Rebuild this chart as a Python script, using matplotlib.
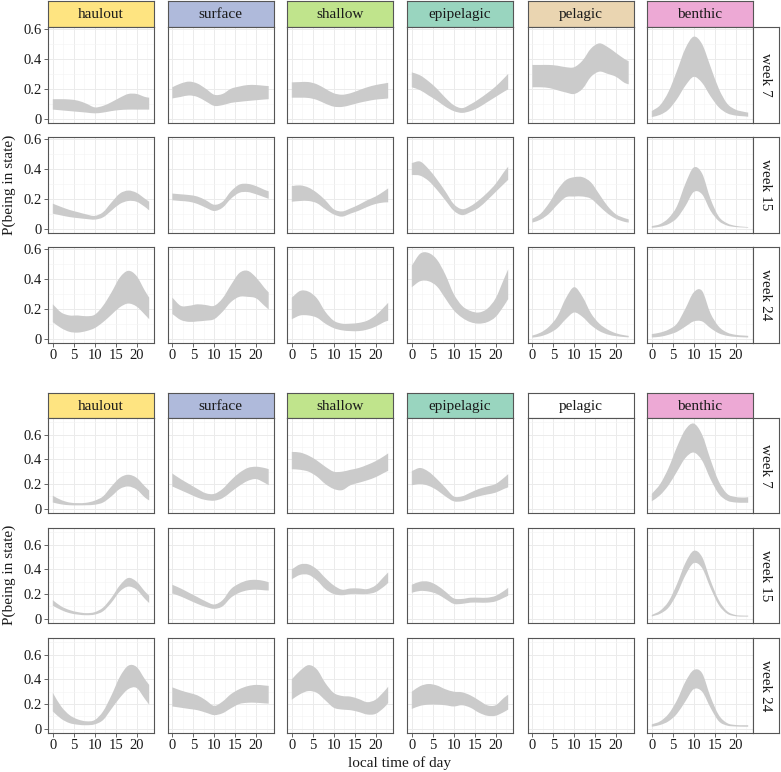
import matplotlib
matplotlib.use("Agg")
import matplotlib.pyplot as plt
from matplotlib.path import Path
from matplotlib.patches import PathPatch

# ---------------- data ----------------
hours = [0, 2, 4, 6, 8, 10, 12, 14, 16, 18, 20, 22, 23]
states = ["haulout", "surface", "shallow", "epipelagic", "pelagic", "benthic"]
weeks = ["week 7", "week 15", "week 24"]
strip_colors_top = ["#FEE481", "#AFBADB", "#C0E48C", "#99D5BF", "#EAD5B1", "#EDA9D5"]
strip_colors_bottom = ["#FEE481", "#AFBADB", "#C0E48C", "#99D5BF", "#FFFFFF", "#EDA9D5"]

# ---- upper chart (first model) ----
top_w7_lower = {
    "haulout":    [0.06, 0.055, 0.05, 0.045, 0.04, 0.035, 0.04, 0.05, 0.057, 0.06, 0.06, 0.06, 0.06],
    "surface":    [0.135, 0.145, 0.155, 0.145, 0.115, 0.085, 0.09, 0.105, 0.112, 0.118, 0.123, 0.128, 0.13],
    "shallow":    [0.14, 0.14, 0.138, 0.125, 0.10, 0.08, 0.078, 0.09, 0.105, 0.117, 0.127, 0.132, 0.135],
    "epipelagic": [0.21, 0.19, 0.155, 0.12, 0.08, 0.05, 0.038, 0.05, 0.075, 0.11, 0.145, 0.18, 0.196],
    "pelagic":    [0.21, 0.21, 0.205, 0.19, 0.175, 0.165, 0.20, 0.28, 0.315, 0.30, 0.28, 0.24, 0.23],
    "benthic":    [0.01, 0.025, 0.06, 0.13, 0.22, 0.28, 0.24, 0.15, 0.075, 0.035, 0.02, 0.015, 0.012],
}
top_w7_upper = {
    "haulout":    [0.13, 0.13, 0.128, 0.12, 0.10, 0.075, 0.085, 0.11, 0.14, 0.165, 0.165, 0.145, 0.14],
    "surface":    [0.21, 0.235, 0.248, 0.235, 0.20, 0.16, 0.165, 0.20, 0.215, 0.225, 0.225, 0.22, 0.218],
    "shallow":    [0.243, 0.245, 0.245, 0.23, 0.20, 0.17, 0.16, 0.17, 0.19, 0.21, 0.225, 0.235, 0.24],
    "epipelagic": [0.31, 0.29, 0.25, 0.20, 0.14, 0.09, 0.07, 0.095, 0.13, 0.17, 0.215, 0.27, 0.30],
    "pelagic":    [0.36, 0.36, 0.36, 0.355, 0.345, 0.345, 0.39, 0.47, 0.505, 0.48, 0.44, 0.40, 0.385],
    "benthic":    [0.05, 0.09, 0.18, 0.32, 0.47, 0.55, 0.50, 0.35, 0.20, 0.10, 0.06, 0.045, 0.04],
}
top_w15_lower = {
    "haulout":    [0.10, 0.088, 0.077, 0.07, 0.064, 0.06, 0.075, 0.12, 0.165, 0.185, 0.18, 0.145, 0.122],
    "surface":    [0.19, 0.185, 0.18, 0.165, 0.14, 0.118, 0.14, 0.20, 0.24, 0.245, 0.23, 0.21, 0.20],
    "shallow":    [0.18, 0.185, 0.185, 0.17, 0.13, 0.095, 0.08, 0.10, 0.12, 0.145, 0.165, 0.175, 0.176],
    "epipelagic": [0.36, 0.355, 0.32, 0.26, 0.19, 0.12, 0.09, 0.11, 0.14, 0.19, 0.245, 0.30, 0.327],
    "pelagic":    [0.04, 0.06, 0.10, 0.16, 0.21, 0.215, 0.215, 0.20, 0.15, 0.10, 0.065, 0.045, 0.04],
    "benthic":    [0.005, 0.012, 0.03, 0.07, 0.15, 0.245, 0.23, 0.12, 0.05, 0.02, 0.01, 0.007, 0.006],
}
top_w15_upper = {
    "haulout":    [0.167, 0.145, 0.125, 0.11, 0.095, 0.085, 0.11, 0.175, 0.235, 0.255, 0.24, 0.20, 0.18],
    "surface":    [0.235, 0.23, 0.225, 0.215, 0.19, 0.16, 0.18, 0.25, 0.295, 0.30, 0.285, 0.26, 0.25],
    "shallow":    [0.285, 0.29, 0.275, 0.24, 0.19, 0.13, 0.115, 0.135, 0.16, 0.19, 0.215, 0.25, 0.27],
    "epipelagic": [0.44, 0.45, 0.40, 0.33, 0.25, 0.165, 0.13, 0.15, 0.19, 0.24, 0.30, 0.38, 0.415],
    "pelagic":    [0.065, 0.10, 0.17, 0.26, 0.325, 0.345, 0.345, 0.31, 0.23, 0.15, 0.095, 0.07, 0.062],
    "benthic":    [0.016, 0.03, 0.07, 0.15, 0.30, 0.41, 0.37, 0.20, 0.08, 0.035, 0.018, 0.012, 0.01],
}
top_w24_lower = {
    "haulout":    [0.11, 0.07, 0.045, 0.04, 0.05, 0.07, 0.11, 0.16, 0.21, 0.235, 0.215, 0.16, 0.13],
    "surface":    [0.165, 0.125, 0.112, 0.115, 0.12, 0.13, 0.18, 0.245, 0.28, 0.28, 0.27, 0.22, 0.195],
    "shallow":    [0.13, 0.155, 0.155, 0.14, 0.10, 0.07, 0.055, 0.05, 0.05, 0.06, 0.08, 0.11, 0.12],
    "epipelagic": [0.345, 0.385, 0.385, 0.35, 0.27, 0.19, 0.14, 0.11, 0.10, 0.11, 0.145, 0.22, 0.265],
    "pelagic":    [0.006, 0.015, 0.035, 0.07, 0.13, 0.175, 0.145, 0.09, 0.05, 0.027, 0.016, 0.01, 0.008],
    "benthic":    [0.007, 0.012, 0.025, 0.045, 0.08, 0.115, 0.115, 0.07, 0.035, 0.018, 0.011, 0.008, 0.007],
}
top_w24_upper = {
    "haulout":    [0.23, 0.175, 0.155, 0.155, 0.15, 0.16, 0.22, 0.31, 0.41, 0.455, 0.42, 0.32, 0.275],
    "surface":    [0.275, 0.22, 0.22, 0.23, 0.225, 0.22, 0.27, 0.36, 0.44, 0.455, 0.41, 0.34, 0.31],
    "shallow":    [0.275, 0.32, 0.315, 0.27, 0.18, 0.12, 0.10, 0.10, 0.105, 0.12, 0.155, 0.21, 0.24],
    "epipelagic": [0.49, 0.57, 0.575, 0.53, 0.43, 0.30, 0.22, 0.185, 0.175, 0.20, 0.27, 0.40, 0.465],
    "pelagic":    [0.02, 0.04, 0.08, 0.15, 0.27, 0.345, 0.28, 0.17, 0.10, 0.06, 0.035, 0.022, 0.018],
    "benthic":    [0.03, 0.04, 0.06, 0.10, 0.20, 0.31, 0.32, 0.17, 0.08, 0.04, 0.025, 0.02, 0.018],
}

# ---- lower chart (second model; no pelagic state) ----
bot_w7_lower = {
    "haulout":    [0.05, 0.035, 0.028, 0.027, 0.028, 0.032, 0.05, 0.10, 0.16, 0.18, 0.155, 0.09, 0.067],
    "surface":    [0.18, 0.15, 0.12, 0.09, 0.07, 0.065, 0.085, 0.135, 0.185, 0.225, 0.24, 0.21, 0.19],
    "shallow":    [0.32, 0.315, 0.30, 0.26, 0.20, 0.16, 0.15, 0.19, 0.21, 0.23, 0.255, 0.29, 0.307],
    "epipelagic": [0.19, 0.20, 0.185, 0.15, 0.10, 0.06, 0.06, 0.08, 0.10, 0.115, 0.13, 0.16, 0.173],
    "pelagic":    None,
    "benthic":    [0.06, 0.11, 0.19, 0.30, 0.41, 0.455, 0.39, 0.24, 0.12, 0.065, 0.05, 0.048, 0.048],
}
bot_w7_upper = {
    "haulout":    [0.105, 0.07, 0.05, 0.045, 0.048, 0.065, 0.10, 0.18, 0.25, 0.275, 0.25, 0.18, 0.147],
    "surface":    [0.285, 0.24, 0.20, 0.16, 0.125, 0.12, 0.16, 0.23, 0.29, 0.33, 0.34, 0.33, 0.32],
    "shallow":    [0.46, 0.455, 0.43, 0.39, 0.34, 0.30, 0.30, 0.315, 0.33, 0.355, 0.385, 0.425, 0.448],
    "epipelagic": [0.305, 0.33, 0.30, 0.24, 0.17, 0.10, 0.10, 0.13, 0.16, 0.18, 0.20, 0.25, 0.28],
    "pelagic":    None,
    "benthic":    [0.12, 0.20, 0.33, 0.50, 0.64, 0.69, 0.60, 0.40, 0.22, 0.12, 0.095, 0.09, 0.093],
}
bot_w15_lower = {
    "haulout":    [0.105, 0.07, 0.045, 0.033, 0.028, 0.033, 0.06, 0.13, 0.22, 0.26, 0.235, 0.16, 0.127],
    "surface":    [0.205, 0.18, 0.15, 0.12, 0.095, 0.08, 0.10, 0.17, 0.21, 0.23, 0.235, 0.23, 0.228],
    "shallow":    [0.32, 0.355, 0.355, 0.31, 0.24, 0.20, 0.19, 0.20, 0.20, 0.20, 0.215, 0.26, 0.29],
    "epipelagic": [0.21, 0.225, 0.22, 0.20, 0.16, 0.12, 0.12, 0.13, 0.13, 0.13, 0.14, 0.17, 0.186],
    "pelagic":    None,
    "benthic":    [0.018, 0.04, 0.09, 0.20, 0.35, 0.45, 0.41, 0.25, 0.11, 0.04, 0.02, 0.017, 0.017],
}
bot_w15_upper = {
    "haulout":    [0.15, 0.10, 0.07, 0.053, 0.045, 0.053, 0.09, 0.17, 0.27, 0.33, 0.30, 0.22, 0.186],
    "surface":    [0.275, 0.245, 0.21, 0.175, 0.14, 0.115, 0.15, 0.24, 0.285, 0.31, 0.315, 0.305, 0.295],
    "shallow":    [0.40, 0.44, 0.44, 0.40, 0.33, 0.27, 0.235, 0.245, 0.245, 0.24, 0.27, 0.34, 0.375],
    "epipelagic": [0.275, 0.30, 0.30, 0.27, 0.22, 0.165, 0.16, 0.17, 0.17, 0.17, 0.185, 0.225, 0.25],
    "pelagic":    None,
    "benthic":    [0.03, 0.065, 0.14, 0.28, 0.45, 0.55, 0.50, 0.31, 0.15, 0.06, 0.03, 0.025, 0.025],
}
bot_w24_lower = {
    "haulout":    [0.14, 0.08, 0.045, 0.032, 0.028, 0.035, 0.07, 0.16, 0.25, 0.32, 0.33, 0.24, 0.195],
    "surface":    [0.18, 0.17, 0.16, 0.15, 0.13, 0.11, 0.125, 0.165, 0.20, 0.21, 0.21, 0.205, 0.203],
    "shallow":    [0.235, 0.28, 0.305, 0.29, 0.23, 0.17, 0.155, 0.15, 0.135, 0.115, 0.12, 0.17, 0.208],
    "epipelagic": [0.16, 0.185, 0.195, 0.195, 0.19, 0.18, 0.19, 0.17, 0.13, 0.105, 0.105, 0.135, 0.155],
    "pelagic":    None,
    "benthic":    [0.016, 0.03, 0.06, 0.12, 0.22, 0.32, 0.30, 0.17, 0.06, 0.025, 0.018, 0.016, 0.016],
}
bot_w24_upper = {
    "haulout":    [0.29, 0.18, 0.11, 0.075, 0.06, 0.07, 0.14, 0.27, 0.42, 0.51, 0.50, 0.40, 0.355],
    "surface":    [0.335, 0.31, 0.29, 0.27, 0.23, 0.185, 0.22, 0.28, 0.32, 0.345, 0.355, 0.35, 0.347],
    "shallow":    [0.40, 0.47, 0.515, 0.48, 0.37, 0.29, 0.265, 0.26, 0.24, 0.215, 0.235, 0.30, 0.34],
    "epipelagic": [0.30, 0.345, 0.362, 0.35, 0.32, 0.30, 0.295, 0.27, 0.23, 0.19, 0.19, 0.25, 0.275],
    "pelagic":    None,
    "benthic":    [0.035, 0.06, 0.12, 0.23, 0.38, 0.475, 0.45, 0.26, 0.11, 0.045, 0.03, 0.028, 0.028],
}

x_ticks = [0, 5, 10, 15, 20]
y_ticks = [0, 0.2, 0.4, 0.6]
y_tick_labels = ["0", "0.2", "0.4", "0.6"]

# ---------------- drawing helpers ----------------
def smooth_segments(xs, ys):
    """Cubic Bezier (Catmull-Rom style) path pieces passing through the given points."""
    n = len(xs)
    verts, codes = [], []
    for i in range(n - 1):
        x0, y0 = xs[i], ys[i]
        x1, y1 = xs[i + 1], ys[i + 1]
        xm, ym = (xs[i - 1], ys[i - 1]) if i > 0 else (x0, y0)
        xp, yp = (xs[i + 2], ys[i + 2]) if i + 2 < n else (x1, y1)
        h = x1 - x0
        # tangents scaled to segment width
        d0 = (y1 - ym) / (x1 - xm) if x1 != xm else 0.0
        d1 = (yp - y0) / (xp - x0) if xp != x0 else 0.0
        verts += [(x0 + h / 3, y0 + d0 * h / 3), (x1 - h / 3, y1 - d1 * h / 3), (x1, y1)]
        codes += [Path.CURVE4] * 3
    return verts, codes

def ribbon(ax, xs, lo, hi, color):
    v_hi, c_hi = smooth_segments(xs, hi)
    v_lo, c_lo = smooth_segments(xs[::-1], lo[::-1])
    verts = [(xs[0], hi[0])] + v_hi + [(xs[-1], lo[-1])] + v_lo + [(xs[0], hi[0])]
    codes = [Path.MOVETO] + c_hi + [Path.LINETO] + c_lo + [Path.CLOSEPOLY]
    ax.add_patch(PathPatch(Path(verts, codes), facecolor=color, edgecolor="none", lw=0))

# ---------------- layout ----------------
plt.rcParams["font.family"] = ["Liberation Serif", "DejaVu Serif"]
W, H = 781, 772
fig = plt.figure(figsize=(W / 100, H / 100), dpi=100)

col_left = [48, 167.5, 287, 407, 527.5, 647]
pw = 106
strip_w = 26
ribbon_col = "#CBCBCB"
edge_col = "#555555"

def rect(x, y, w, h):
    return [x / W, 1 - (y + h) / H, w / W, h / H]

grids = [
    dict(strip_top=1, strip_h=26, rows=[27, 137, 247], ph=96, ylim=(-0.03, 0.615),
         yminor=[0.1, 0.3, 0.5], colors=strip_colors_top,
         lower=[top_w7_lower, top_w15_lower, top_w24_lower],
         upper=[top_w7_upper, top_w15_upper, top_w24_upper], ylab_y=185),
    dict(strip_top=393, strip_h=25, rows=[418, 528, 638], ph=95, ylim=(-0.035, 0.735),
         yminor=[0.1, 0.3, 0.5, 0.7], colors=strip_colors_bottom,
         lower=[bot_w7_lower, bot_w15_lower, bot_w24_lower],
         upper=[bot_w7_upper, bot_w15_upper, bot_w24_upper], ylab_y=575),
]

for g in grids:
    for c, st in enumerate(states):
        sax = fig.add_axes(rect(col_left[c], g["strip_top"], pw, g["strip_h"]))
        sax.set_facecolor(g["colors"][c])
        sax.set_xticks([]); sax.set_yticks([])
        for s in sax.spines.values():
            s.set_color(edge_col); s.set_linewidth(0.8)
        sax.text(0.5, 0.47, st, ha="center", va="center", fontsize=11, color="#1A1A1A",
                 transform=sax.transAxes)
    for r, wk in enumerate(weeks):
        y0 = g["rows"][r]
        for c, st in enumerate(states):
            ax = fig.add_axes(rect(col_left[c], y0, pw, g["ph"]))
            ax.set_xlim(-1.15, 24.15)
            ax.set_ylim(*g["ylim"])
            ax.set_xticks(x_ticks)
            ax.set_xticks([2.5, 7.5, 12.5, 17.5, 22.5], minor=True)
            ax.set_yticks(y_ticks)
            ax.set_yticks(g["yminor"], minor=True)
            ax.grid(which="major", color="#EBEBEB", lw=0.7)
            ax.grid(which="minor", color="#F4F4F4", lw=0.4)
            ax.set_axisbelow(True)
            for s in ax.spines.values():
                s.set_color(edge_col); s.set_linewidth(0.8)
            ax.tick_params(which="minor", length=0)
            ax.tick_params(which="major", length=3, color="#4D4D4D", width=0.6,
                           labelsize=10.5, labelcolor="#1A1A1A", pad=1.5)
            if c == 0:
                ax.set_yticklabels(y_tick_labels)
            else:
                ax.tick_params(axis="y", left=False, labelleft=False)
            if r == 2:
                ax.set_xticklabels([str(t) for t in x_ticks])
            else:
                ax.tick_params(axis="x", bottom=False, labelbottom=False)
            lo = g["lower"][r][st]
            hi = g["upper"][r][st]
            if lo is not None:
                ribbon(ax, hours, lo, hi, ribbon_col)
        rax = fig.add_axes(rect(753, y0, strip_w, g["ph"]))
        rax.set_facecolor("white")
        rax.set_xticks([]); rax.set_yticks([])
        for s in rax.spines.values():
            s.set_color(edge_col); s.set_linewidth(0.8)
        rax.text(0.5, 0.5, wk, ha="center", va="center", rotation=270, fontsize=11,
                 color="#1A1A1A", transform=rax.transAxes)
    fig.text(9 / W, 1 - g["ylab_y"] / H, "P(being in state)", rotation=90,
             ha="center", va="center", fontsize=11, color="#1A1A1A")

fig.text(400 / W, 1 - 763 / H, "local time of day", ha="center", va="center",
         fontsize=11, color="#1A1A1A")

fig.savefig("out.png", dpi=100)
